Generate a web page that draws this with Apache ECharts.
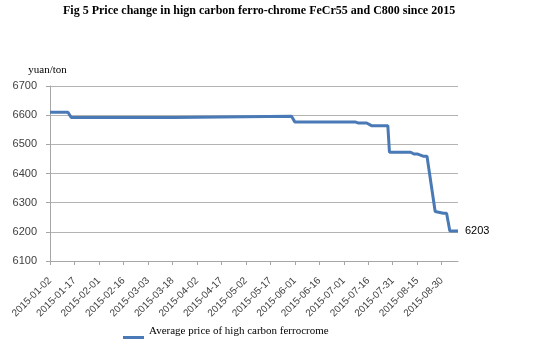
<!DOCTYPE html>
<html>
<head>
<meta charset="utf-8">
<script src="https://cdn.jsdelivr.net/npm/echarts@6/dist/echarts.min.js"></script>
<style>
html,body{margin:0;padding:0;background:#fff;}
#c{width:538px;height:346px;}
</style>
</head>
<body>
<div id="c"></div>
<script>
var titleText = 'Fig 5 Price change in hign carbon ferro-chrome FeCr55 and C800 since 2015';
var unitName = 'yuan/ton';
var seriesName = 'Average price of high carbon ferrocrome';
var tickLabels = ['2015-01-02','2015-01-17','2015-02-01','2015-02-16','2015-03-03','2015-03-18','2015-04-02','2015-04-17','2015-05-02','2015-05-17','2015-06-01','2015-06-16','2015-07-01','2015-07-16','2015-07-31','2015-08-15','2015-08-30'];
var endDate = '2015-09-09';
var dates = ['2015-01-02','2015-01-13','2015-01-15','2015-03-19','2015-03-20','2015-05-30','2015-06-01','2015-07-08','2015-07-10','2015-07-15','2015-07-18','2015-07-28','2015-07-29','2015-08-11','2015-08-13','2015-08-15','2015-08-19','2015-08-21','2015-08-26','2015-08-31','2015-09-02','2015-09-04','2015-09-09'];
var prices = [6610,6610,6592,6592,6596,6596,6577,6577,6573,6573,6564,6564,6473,6473,6467,6467,6459,6459,6270,6264,6264,6203,6203];
var yTicks = [6100,6200,6300,6400,6500,6600,6700];

function dayOf(s){
  var p = s.split('-');
  var t = Date.UTC(+p[0], +p[1]-1, +p[2]);
  var b = Date.UTC(2015,0,2);
  return Math.round((t-b)/86400000);
}
var tickDays = tickLabels.map(dayOf);
var seriesData = dates.map(function(d,i){ return [dayOf(d), prices[i]]; });

var chart = echarts.init(document.getElementById('c'), null, {renderer:'canvas'});
chart.setOption({
  animation:false,
  backgroundColor:'#fff',
  title:{
    text:titleText, left:63, top:5, padding:0,
    textStyle:{fontFamily:'Liberation Serif', fontWeight:'bold', fontSize:12, color:'#000'}
  },
  legend:{
    data:[seriesName], left:123, top:324, padding:0,
    icon:'path://M0,0 M0,12 L21,12 L21,15 L0,15 Z', itemWidth:21, itemHeight:15, itemGap:4,
    textStyle:{fontFamily:'Liberation Serif', fontSize:11, color:'#000'}
  },
  grid:{left:50, right:80, top:86, bottom:85, containLabel:false},
  xAxis:{
    type:'value', min:0, max:dayOf(endDate), interval:15,
    axisLine:{show:true, onZero:false, lineStyle:{color:'#a6a6a6', width:1}},
    axisTick:{show:true, length:4, lineStyle:{color:'#a6a6a6'}, customValues:tickDays},
    axisLabel:{rotate:45, fontSize:10, color:'#404040', fontFamily:'Liberation Sans', margin:18,
      customValues:tickDays,
      formatter:function(v){ var i = tickDays.indexOf(v); return i>=0 ? tickLabels[i] : ''; }},
    splitLine:{show:false}
  },
  yAxis:{
    type:'value', min:yTicks[0], max:yTicks[yTicks.length-1], interval:100,
    name:unitName, nameLocation:'end', nameGap:10,
    nameTextStyle:{fontFamily:'Liberation Serif', fontSize:11, color:'#000', align:'center', padding:[0,5,0,0]},
    axisLine:{show:true, lineStyle:{color:'#a6a6a6', width:1}},
    axisTick:{show:true, length:4, lineStyle:{color:'#a6a6a6'}},
    axisLabel:{fontSize:11, color:'#404040', fontFamily:'Liberation Sans', margin:13,
      formatter:function(v){ return String(v); }},
    splitLine:{show:true, lineStyle:{color:'#b3b3b3', width:1}}
  },
  series:[{
    name:seriesName, type:'line', data:seriesData,
    showSymbol:false, symbol:'none',
    lineStyle:{color:'#4a7ab5', width:3},
    itemStyle:{color:'#4a7ab5'},
    endLabel:{show:true, distance:7, color:'#000', fontSize:11, fontFamily:'Liberation Sans',
      formatter:function(p){ return String(p.value[1]); }}
  }]
});
</script>
</body>
</html>
